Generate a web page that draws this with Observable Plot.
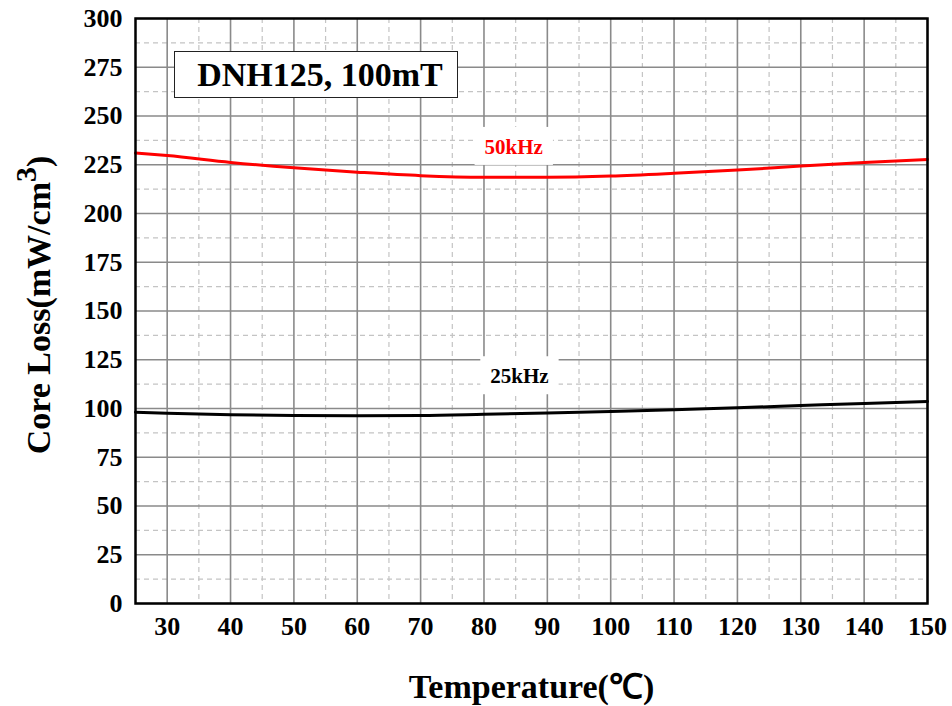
<!DOCTYPE html>
<html>
<head>
<meta charset="utf-8">
<script src="https://cdn.jsdelivr.net/npm/d3@7"></script>
<script src="https://cdn.jsdelivr.net/npm/@observablehq/plot@0.6"></script>
<style>
  html, body { margin: 0; padding: 0; background: white; }
  #wrap { position: relative; width: 952px; height: 706px; }
  #titlebox {
    position: absolute; left: 174px; top: 51px; height: 45px;
    border: 1.5px solid #222; background: white;
    font-family: "Liberation Serif", serif; font-weight: bold; font-size: 34px;
    display: flex; align-items: center; justify-content: center; box-sizing: content-box;
    padding-left: 8px; width: 274px;
  }
</style>
</head>
<body>
<div id="wrap"></div>
<script>
// Data
const temps  = [25, 30, 40, 50, 60, 70, 80, 90, 100, 110, 120, 130, 140, 150];
const loss50 = [231.0, 229.7, 226.2, 223.4, 221.2, 219.4, 218.6, 218.6, 219.2, 220.6, 222.3, 224.3, 226.2, 227.7];
const loss25 = [98.1, 97.6, 96.8, 96.4, 96.3, 96.4, 97.0, 97.7, 98.5, 99.4, 100.4, 101.5, 102.6, 103.6];
const xTicks = [30, 40, 50, 60, 70, 80, 90, 100, 110, 120, 130, 140, 150];
const xMinor = [35, 45, 55, 65, 75, 85, 95, 105, 115, 125, 135, 145];
const yTicks = [0, 25, 50, 75, 100, 125, 150, 175, 200, 225, 250, 275, 300];
const yMinor = [12.5, 37.5, 62.5, 87.5, 112.5, 137.5, 162.5, 187.5, 212.5, 237.5, 262.5, 287.5];
const seriesLabels = ["50kHz", "25kHz"];
const labelTemps = [84.7, 85.6];
const labelLoss = [234, 116.4];
const labelColors = ["#ff0000", "#000000"];
const chartTitle = "DNH125, 100mT";
const xTitle = "Temperature(℃)";

const s50 = temps.map((t, i) => ({t, v: loss50[i]}));
const s25 = temps.map((t, i) => ({t, v: loss25[i]}));
const labels = seriesLabels.map((s, i) => ({s, t: labelTemps[i], v: labelLoss[i], c: labelColors[i]}));

const chart = Plot.plot({
  width: 952, height: 706,
  marginLeft: 135, marginRight: 25, marginTop: 18, marginBottom: 103,
  x: {domain: [25, 150]},
  y: {domain: [0, 300]},
  style: {fontFamily: "'Liberation Serif', serif", fontWeight: "bold", color: "black", background: "white", overflow: "visible"},
  marks: [
    Plot.ruleX(xMinor, {stroke: "#c4c4c4", strokeWidth: 1.2, strokeDasharray: "5,4"}),
    Plot.ruleY(yMinor, {stroke: "#c4c4c4", strokeWidth: 1.2, strokeDasharray: "5,4"}),
    Plot.ruleX(xTicks, {stroke: "#8a8a8a", strokeWidth: 1.6}),
    Plot.ruleY(yTicks, {stroke: "#8a8a8a", strokeWidth: 1.6}),
    Plot.axisX({ticks: xTicks, tickSize: 0, tickPadding: 13, label: null}),
    Plot.axisY({ticks: yTicks, tickSize: 0, tickPadding: 13, label: null}),
    Plot.line(s50, {x: "t", y: "v", stroke: "#ff0000", strokeWidth: 3, curve: "monotone-x"}),
    Plot.line(s25, {x: "t", y: "v", stroke: "#000000", strokeWidth: 3, curve: "monotone-x"}),
    Plot.text(labels, {x: "t", y: "v", text: "s", fill: "c", fontSize: 21, fontWeight: "bold", className: "serieslabel"}),
    Plot.frame({stroke: "black", strokeWidth: 2.5}),
    Plot.text([xTitle], {frameAnchor: "bottom", dy: 94, fontSize: 34, fontWeight: "bold", text: d => d, lineAnchor: "bottom"})
  ]
});

const wrap = document.getElementById("wrap");
wrap.appendChild(chart);
const svg = d3.select(chart);

// enlarge axis tick labels
svg.selectAll('g[aria-label*="axis"]').attr("font-size", 26).style("font-size", "26px");
svg.selectAll('g[aria-label*="axis"] text').style("font-size", "26px").style("font-weight", "bold");

// y axis title with superscript
const yt = svg.append("text")
  .attr("transform", "translate(50,305) rotate(-90)")
  .attr("text-anchor", "middle")
  .attr("font-family", "'Liberation Serif', serif")
  .attr("font-weight", "bold")
  .attr("font-size", 34)
  .attr("fill", "black");
yt.append("tspan").text("Core Loss(mW/cm");
yt.append("tspan").attr("dy", -14).attr("font-size", 30).text("3");
yt.append("tspan").attr("dy", 14).text(")");

// white boxes behind series labels
svg.selectAll("g.serieslabel text").each(function() {
  const b = this.getBBox();
  const ctm = this.getAttribute("transform");
  const r = document.createElementNS("http://www.w3.org/2000/svg", "rect");
  r.setAttribute("x", b.x - 10); r.setAttribute("y", b.y - 8);
  r.setAttribute("width", b.width + 20); r.setAttribute("height", b.height + 14);
  r.setAttribute("fill", "white");
  if (ctm) r.setAttribute("transform", ctm);
  this.parentNode.insertBefore(r, this);
});

// title box
const tb = document.createElement("div");
tb.id = "titlebox";
tb.textContent = chartTitle;
wrap.appendChild(tb);
</script>
</body>
</html>
